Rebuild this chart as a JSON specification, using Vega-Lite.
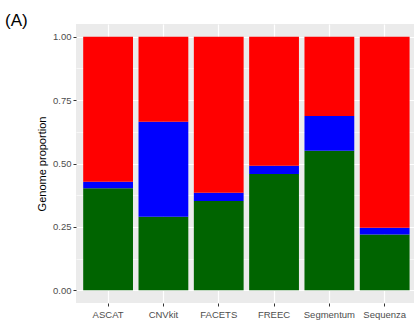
{
  "$schema": "https://vega.github.io/schema/vega-lite/v6.json",
  "width": 338,
  "height": 279,
  "autosize": {"type": "none"},
  "padding": {"left": 76, "top": 24, "right": 0, "bottom": 18},
  "background": "white",
  "title": {
    "text": "(A)",
    "anchor": "start",
    "frame": "group",
    "dx": -71,
    "dy": 19,
    "baseline": "alphabetic",
    "offset": 0,
    "font": "Liberation Sans",
    "fontSize": 17,
    "fontWeight": "normal",
    "color": "black"
  },
  "config": {
    "view": {"fill": "#EBEBEB", "stroke": null},
    "font": "Liberation Sans"
  },
  "data": {
    "values": [
      {"tool": "ASCAT", "state": "neutral", "order": 1, "proportion": 0.402},
      {"tool": "ASCAT", "state": "loss", "order": 2, "proportion": 0.026},
      {"tool": "ASCAT", "state": "gain", "order": 3, "proportion": 0.572},
      {"tool": "CNVkit", "state": "neutral", "order": 1, "proportion": 0.290},
      {"tool": "CNVkit", "state": "loss", "order": 2, "proportion": 0.375},
      {"tool": "CNVkit", "state": "gain", "order": 3, "proportion": 0.335},
      {"tool": "FACETS", "state": "neutral", "order": 1, "proportion": 0.352},
      {"tool": "FACETS", "state": "loss", "order": 2, "proportion": 0.033},
      {"tool": "FACETS", "state": "gain", "order": 3, "proportion": 0.615},
      {"tool": "FREEC", "state": "neutral", "order": 1, "proportion": 0.459},
      {"tool": "FREEC", "state": "loss", "order": 2, "proportion": 0.032},
      {"tool": "FREEC", "state": "gain", "order": 3, "proportion": 0.509},
      {"tool": "Segmentum", "state": "neutral", "order": 1, "proportion": 0.550},
      {"tool": "Segmentum", "state": "loss", "order": 2, "proportion": 0.137},
      {"tool": "Segmentum", "state": "gain", "order": 3, "proportion": 0.313},
      {"tool": "Sequenza", "state": "neutral", "order": 1, "proportion": 0.220},
      {"tool": "Sequenza", "state": "loss", "order": 2, "proportion": 0.027},
      {"tool": "Sequenza", "state": "gain", "order": 3, "proportion": 0.753}
    ]
  },
  "mark": {"type": "bar", "stroke": null},
  "encoding": {
    "x": {
      "field": "tool",
      "type": "nominal",
      "sort": null,
      "scale": {"paddingInner": 0.1, "paddingOuter": 0.105, "align": 0.62},
      "axis": {
        "title": null,
        "labelAngle": 0,
        "labelFontSize": 9.5,
        "labelColor": "#4D4D4D",
        "labelPadding": 3,
        "tickColor": "#333333",
        "tickSize": 3,
        "domain": false,
        "grid": true,
        "gridColor": "white",
        "gridWidth": 1.2,
        "bandPosition": 0.5
      }
    },
    "y": {
      "field": "proportion",
      "type": "quantitative",
      "stack": "zero",
      "scale": {"domain": [-0.05, 1.05], "nice": false, "zero": false},
      "axis": {
        "title": "Genome proportion",
        "titleFontSize": 11,
        "titleFontWeight": "normal",
        "titleColor": "black",
        "titlePadding": 5,
        "values": [0, 0.125, 0.25, 0.375, 0.5, 0.625, 0.75, 0.875, 1],
        "labelExpr": "datum.value * 4 % 1 === 0 ? format(datum.value, '.2f') : ''",
        "labelFontSize": 9.5,
        "labelColor": "#4D4D4D",
        "labelPadding": 2,
        "tickColor": "#333333",
        "tickSize": {"condition": {"test": "datum.value * 4 % 1 === 0", "value": 3}, "value": 0},
        "domain": false,
        "grid": true,
        "gridColor": "white",
        "gridWidth": {"condition": {"test": "datum.value * 4 % 1 === 0", "value": 1.2}, "value": 0.6}
      }
    },
    "color": {
      "field": "state",
      "type": "nominal",
      "scale": {"domain": ["neutral", "loss", "gain"], "range": ["#006400", "#0000FF", "#FF0000"]},
      "legend": null
    },
    "order": {"field": "order", "type": "quantitative"}
  }
}
